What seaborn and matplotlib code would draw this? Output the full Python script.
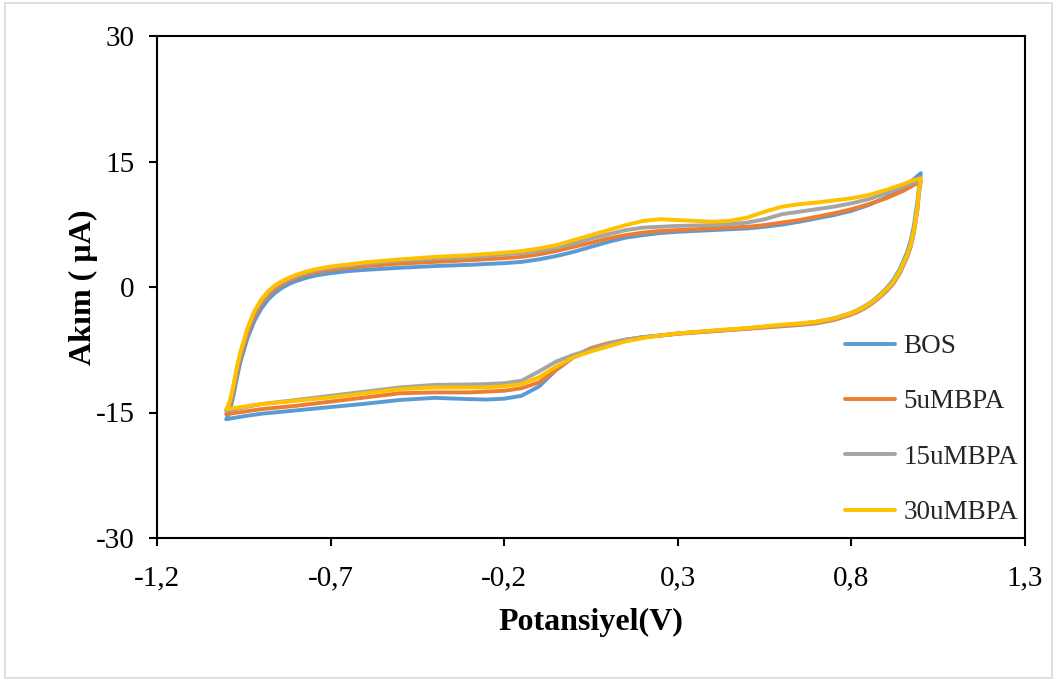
import numpy as np
import pandas as pd
import seaborn as sns
import matplotlib
matplotlib.use("Agg")
import matplotlib.pyplot as plt
from matplotlib.patches import Rectangle
from matplotlib.ticker import FixedLocator, FuncFormatter

# Potential grid (V) of the anodic (forward) and cathodic (reverse) sweeps
E_forward = [-1.0, -0.99, -0.98, -0.97, -0.96, -0.94, -0.92, -0.9, -0.88, -0.86,
             -0.84, -0.82, -0.8, -0.77, -0.74, -0.7, -0.65, -0.6, -0.5, -0.4,
             -0.3, -0.2, -0.15, -0.1, -0.05, 0.0, 0.05, 0.1, 0.15, 0.2, 0.25,
             0.3, 0.35, 0.4, 0.45, 0.5, 0.55, 0.6, 0.65, 0.7, 0.75, 0.8, 0.85,
             0.9, 0.95, 0.98, 1.0]
E_reverse = [1.0, 0.995, 0.99, 0.98, 0.97, 0.96, 0.94, 0.92, 0.9, 0.88, 0.86,
             0.84, 0.82, 0.8, 0.75, 0.7, 0.65, 0.6, 0.5, 0.4, 0.3, 0.25, 0.2,
             0.15, 0.1, 0.05, 0.0, -0.05, -0.1, -0.15, -0.2, -0.25, -0.3, -0.4,
             -0.5, -0.6, -0.7, -0.8, -0.9, -0.95, -1.0]

# Current (µA) for each solution
bos_fwd = [-15.8, -14.8, -13.0, -10.9, -9.0, -6.2, -4.1, -2.6, -1.5, -0.7,
           -0.1, 0.35, 0.7, 1.1, 1.4, 1.65, 1.9, 2.05, 2.3, 2.5,
           2.65, 2.85, 3.0, 3.3, 3.7, 4.2, 4.8, 5.4, 5.9, 6.2, 6.45,
           6.6, 6.7, 6.8, 6.9, 7.0, 7.2, 7.45, 7.8, 8.2, 8.6, 9.1, 9.8,
           10.7, 11.9, 12.9, 13.6]
bos_rev = [13.6, 12.2, 10.2, 7.3, 5.4, 4.1, 2.2, 0.8, -0.2, -1.0, -1.7,
           -2.25, -2.7, -3.1, -3.75, -4.15, -4.4, -4.55, -4.95, -5.25, -5.55, -5.8, -6.0,
           -6.3, -6.8, -7.5, -8.4, -9.9, -11.9, -13.0, -13.35, -13.45, -13.4, -13.25,
           -13.5, -13.95, -14.35, -14.75, -15.15, -15.45, -15.8]

bpa5_fwd = [-15.2, -14.2, -12.4, -10.2, -8.4, -5.6, -3.5, -2.0, -1.0, -0.25,
            0.3, 0.75, 1.1, 1.5, 1.8, 2.05, 2.3, 2.5, 2.8, 3.0,
            3.2, 3.45, 3.6, 3.9, 4.3, 4.8, 5.3, 5.8, 6.2, 6.5, 6.7,
            6.8, 6.9, 7.0, 7.1, 7.2, 7.4, 7.7, 8.0, 8.4, 8.8, 9.3, 9.9,
            10.6, 11.5, 12.2, 12.6]
bpa5_rev = [12.6, 11.4, 9.2, 6.5, 4.7, 3.5, 1.7, 0.35, -0.55, -1.3, -1.95,
            -2.5, -2.95, -3.3, -3.95, -4.35, -4.55, -4.7, -5.0, -5.3, -5.6, -5.8, -6.0,
            -6.3, -6.7, -7.3, -8.3, -9.9, -11.4, -12.1, -12.4, -12.5, -12.6, -12.6,
            -12.7, -13.2, -13.7, -14.2, -14.6, -14.9, -15.2]

bpa15_fwd = [-14.8, -13.8, -12.0, -9.8, -8.0, -5.2, -3.1, -1.7, -0.7, 0.05,
             0.55, 0.95, 1.3, 1.7, 2.0, 2.3, 2.55, 2.8, 3.15, 3.4,
             3.6, 3.9, 4.05, 4.3, 4.7, 5.2, 5.8, 6.3, 6.8, 7.1, 7.2,
             7.3, 7.35, 7.4, 7.5, 7.7, 8.1, 8.7, 9.0, 9.3, 9.6, 10.0, 10.5,
             11.2, 12.0, 12.5, 12.8]
bpa15_rev = [12.8, 11.6, 9.3, 6.6, 4.8, 3.6, 1.8, 0.45, -0.45, -1.2, -1.85,
             -2.4, -2.85, -3.2, -3.85, -4.25, -4.45, -4.6, -4.95, -5.25, -5.55, -5.8, -6.0,
             -6.3, -6.8, -7.5, -8.1, -8.9, -10.1, -11.2, -11.5, -11.6, -11.65, -11.7,
             -12.0, -12.5, -13.0, -13.5, -14.0, -14.4, -14.8]

bpa30_fwd = [-14.6, -13.6, -11.8, -9.6, -7.8, -5.0, -2.9, -1.5, -0.5, 0.2,
             0.7, 1.1, 1.45, 1.85, 2.15, 2.45, 2.7, 2.95, 3.3, 3.6,
             3.8, 4.1, 4.3, 4.6, 5.0, 5.6, 6.2, 6.8, 7.4, 7.9, 8.1,
             8.0, 7.9, 7.8, 7.9, 8.3, 9.0, 9.6, 9.9, 10.1, 10.35, 10.6, 11.0,
             11.6, 12.3, 12.8, 13.0]
bpa30_rev = [13.0, 11.8, 9.5, 6.8, 5.0, 3.8, 2.0, 0.6, -0.3, -1.1, -1.75,
             -2.3, -2.75, -3.1, -3.75, -4.15, -4.35, -4.5, -4.9, -5.2, -5.55, -5.8, -6.1,
             -6.5, -7.1, -7.7, -8.4, -9.5, -10.8, -11.6, -11.85, -12.0, -12.0, -12.0,
             -12.2, -12.7, -13.2, -13.6, -14.0, -14.3, -14.6]

series_names = ["BOS", "5uMBPA", "15uMBPA", "30uMBPA"]
series_colors = ["#5B9BD5", "#ED7D31", "#A5A5A5", "#FFC000"]
x_ticks = [-1.2, -0.7, -0.2, 0.3, 0.8, 1.3]
y_ticks = [-30, -15, 0, 15, 30]

currents = {
    "BOS": (bos_fwd, bos_rev),
    "5uMBPA": (bpa5_fwd, bpa5_rev),
    "15uMBPA": (bpa15_fwd, bpa15_rev),
    "30uMBPA": (bpa30_fwd, bpa30_rev),
}

frames = []
for name in series_names:
    fwd, rev = currents[name]
    E = list(E_forward) + list(E_reverse)
    I = list(fwd) + list(rev)
    frames.append(pd.DataFrame({"E": E, "I": I, "series": name,
                                "step": np.arange(len(E))}))
df = pd.concat(frames, ignore_index=True)

sns.set_style("white")
plt.rcParams["font.family"] = ["Liberation Serif", "DejaVu Serif"]

fig = plt.figure(figsize=(10.59, 6.81), dpi=100)
ax = fig.add_axes([157 / 1059, 1 - 538 / 681, 868 / 1059, 502 / 681])

sns.lineplot(data=df, x="E", y="I", hue="series", hue_order=series_names,
             palette=series_colors, sort=False, estimator=None, units="series",
             linewidth=2.8, ax=ax, legend=True)
for line in ax.lines:
    line.set_solid_joinstyle("round")
    line.set_solid_capstyle("round")

ax.set_xlim(-1.2, 1.3)
ax.set_ylim(-30, 30)
ax.xaxis.set_major_locator(FixedLocator(x_ticks))
ax.yaxis.set_major_locator(FixedLocator(y_ticks))
ax.xaxis.set_major_formatter(FuncFormatter(lambda v, p: f"{v:.1f}".replace(".", ",")))
ax.yaxis.set_major_formatter(FuncFormatter(lambda v, p: f"{v:.0f}"))
ax.tick_params(axis="both", which="major", direction="out", length=6, width=1.5,
               color="black", labelsize=21, labelcolor="black",
               bottom=True, left=True, top=False, right=False)
ax.tick_params(axis="x", pad=14)
ax.tick_params(axis="y", pad=10)
for side in ["left", "bottom", "top", "right"]:
    ax.spines[side].set_visible(True)
    ax.spines[side].set_color("black")
    ax.spines[side].set_linewidth(1.5)

ax.set_xlabel("Potansiyel(V)", fontsize=23, fontweight="bold", color="black")
ax.set_ylabel("Akım ( µA)", fontsize=23, fontweight="bold", color="black")
ax.xaxis.set_label_coords(0.5, -0.14)
ax.yaxis.set_label_coords(-0.068, 0.5)

handles, labels = ax.get_legend_handles_labels()
for h in handles:
    h.set_linewidth(2.8)
ax.legend(handles, labels, loc="upper left",
          bbox_to_anchor=(845 / 1059, 1 - 334 / 681),
          bbox_transform=fig.transFigure, frameon=False, fontsize=19.5,
          handlelength=1.85, handletextpad=0.3, labelspacing=1.12,
          borderpad=0, borderaxespad=0)

# thin light-grey frame around the whole chart area
fig.patches.append(Rectangle((5 / 1059, 3 / 681), 1047 / 1059, 675 / 681,
                             transform=fig.transFigure, fill=False,
                             edgecolor="#D9D9D9", linewidth=1.2))

fig.savefig("out.png", dpi=100, facecolor="white")
